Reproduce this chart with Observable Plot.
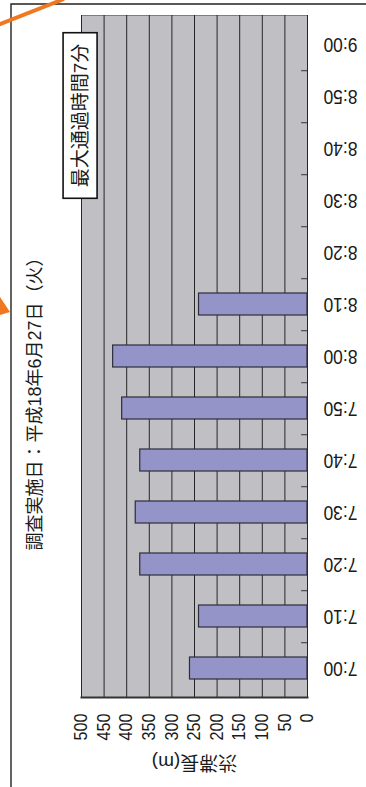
<!DOCTYPE html>
<html>
<head>
<meta charset="utf-8">
<script src="https://cdn.jsdelivr.net/npm/d3@7"></script>
<script src="https://cdn.jsdelivr.net/npm/@observablehq/plot@0.6"></script>
<style>
  html, body { margin: 0; padding: 0; background: #fff; }
  #chart { width: 366px; height: 787px; overflow: hidden; }
  #chart svg { display: block; }
</style>
</head>
<body>
<div id="chart"></div>
<script>
// 10-minute time slots along the category axis (bottom = earliest)
const times = ["7:00", "7:10", "7:20", "7:30", "7:40", "7:50", "8:00", "8:10", "8:20", "8:30", "8:40", "8:50", "9:00"];
// queue length (m) for each slot; no queue after 8:10
const queueLengths = [260, 240, 370, 380, 370, 410, 430, 240, null, null, null, null, null];
// value-axis ticks
const lengthTicks = [0, 50, 100, 150, 200, 250, 300, 350, 400, 450, 500];

const surveyTitle = "調査実施日：平成18年6月27日（火）";
const lengthLabel = "渋滞長(m)";
const peakLabel = "最大通過時間7分";

const W = 366, H = 787;
const mTop = 15, mRight = 59, mBottom = 90, mLeft = 81;
const step = (H - mTop - mBottom) / times.length;

const rows = times.map((t, i) => ({time: t, length: queueLengths[i]}));

const chart = Plot.plot({
  width: W,
  height: H,
  marginTop: mTop,
  marginRight: mRight,
  marginBottom: mBottom,
  marginLeft: mLeft,
  style: {
    fontFamily: "'Liberation Sans', 'Noto Sans CJK JP', sans-serif",
    color: "#1a1a1a",
    background: "transparent",
    overflow: "visible"
  },
  x: {domain: [0, 500], reverse: true},
  y: {domain: times.slice().reverse(), paddingInner: 0.58, paddingOuter: 0.29},
  marks: [
    Plot.frame({fill: "#c0c0c4", stroke: "#7c7c7c"}),
    Plot.ruleX(lengthTicks, {stroke: "#262626", strokeWidth: 1}),
    // short inward ticks between time slots
    Plot.ruleY(times.slice(1), {y: d => d, dy: step / 2, x1: 0, x2: 13, stroke: "#333"}),
    Plot.barX(rows, {y: "time", x: "length", fill: "#9494c8", stroke: "#2e2e3a", strokeWidth: 1.2}),
    Plot.frame({anchor: "bottom", stroke: "#333", strokeWidth: 2}),
    Plot.axisX(lengthTicks, {
      anchor: "bottom", tickSize: 0, tickPadding: 16, tickRotate: -90,
      textAnchor: "end", lineAnchor: "middle", fontSize: 18, label: null
    }),
    Plot.axisY({
      anchor: "right", tickSize: 0, tickPadding: 16, tickRotate: 180,
      textAnchor: "end", lineAnchor: "middle", fontSize: 21, label: null
    }),
    Plot.text([lengthLabel], {
      x: 250, frameAnchor: "bottom", dy: 65, rotate: 180,
      textAnchor: "middle", lineAnchor: "middle", fontSize: 19
    }),
    Plot.text([surveyTitle], {
      frameAnchor: "left", dx: -46, dy: 43, rotate: -90,
      textAnchor: "middle", lineAnchor: "middle", fontSize: 18
    }),
    Plot.text([peakLabel], {
      frameAnchor: "top-left", dx: -1, dy: 100, rotate: -90,
      textAnchor: "middle", lineAnchor: "middle", fontSize: 19, className: "peak-label"
    })
  ]
});

document.getElementById("chart").append(chart);

// narrow the numeric tick labels along their reading direction
function condense(selector, k) {
  d3.select(chart).selectAll(selector).attr("transform", function () {
    return (this.getAttribute("transform") || "") + ` scale(${k},1)`;
  });
}
condense('g[aria-label="y-axis tick label"] text', 0.83);
condense('g[aria-label="x-axis tick label"] text', 0.9);

// boxed note behind the peak-duration label
const peakText = d3.select(chart).select(".peak-label text");
if (!peakText.empty()) {
  const bb = peakText.node().getBBox();
  const cy = bb.y + bb.height / 2;
  d3.select(peakText.node().parentNode)
    .insert("rect", "text")
    .attr("transform", peakText.attr("transform"))
    .attr("x", bb.x - 11)
    .attr("y", cy - 17)
    .attr("width", bb.width + 22)
    .attr("height", 34)
    .attr("fill", "#fff")
    .attr("stroke", "#111")
    .attr("stroke-width", 1.6);
}

// surrounding panel border and the connector arrows of the page layout
const svg = d3.select(chart);
svg.append("path")
  .attr("d", "M11,787V4H366")
  .attr("fill", "none")
  .attr("stroke", "#222")
  .attr("stroke-width", 1.4);
svg.append("line")
  .attr("x1", -2).attr("y1", 25).attr("x2", 64).attr("y2", -1)
  .attr("stroke", "#f07820").attr("stroke-width", 4);
svg.append("path")
  .attr("d", "M0,297L10,312L0,315Z")
  .attr("fill", "#f07820");
</script>
</body>
</html>
